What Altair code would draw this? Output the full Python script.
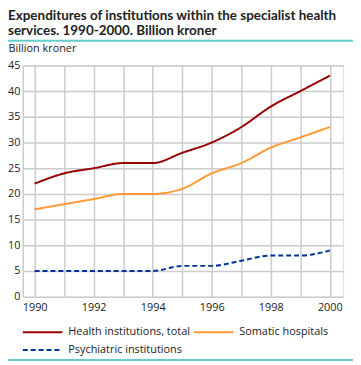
import altair as alt
import pandas as pd

years = list(range(1990, 2001))
total = [22, 24, 25, 26, 26, 28, 30, 33, 37, 40, 43]
somatic = [17, 18, 19, 20, 20, 21, 24, 26, 29, 31, 33]
psych = [5, 5, 5, 5, 5, 6, 6, 7, 8, 8, 9]
series_names = ["Health institutions, total", "Somatic hospitals", "Psychiatric institutions"]
series_colors = ["#990000", "#ff9933", "#003399"]
series_dash = [[1, 0], [1, 0], [5, 3]]
title_lines = ["Expenditures of institutions within the specialist health",
               "services. 1990-2000. Billion kroner"]
y_title = "Billion kroner"
y_ticks = [0, 5, 10, 15, 20, 25, 30, 35, 40, 45]

rows = []
for name, vals in zip(series_names, [total, somatic, psych]):
    for yr, v in zip(years, vals):
        rows.append({"year": yr, "value": v, "series": name})
df = pd.DataFrame(rows)

FONT = "Open Sans"
TFONT = "Lato"
W, H = 324, 234
PL, PT = 15, 56

color_scale = alt.Scale(domain=series_names, range=series_colors)
dash_scale = alt.Scale(domain=series_names, range=series_dash)

x = alt.X("year:Q",
          scale=alt.Scale(domain=[1989.6, 2000.45], nice=False, zero=False),
          axis=alt.Axis(values=years, labelExpr="datum.value % 2 == 0 ? datum.value : ''",
                        title=None, grid=True, gridColor="#cccccc", gridWidth=1.5,
                        domain=False, ticks=False, labelPadding=5,
                        labelFontSize=11, labelColor="#222222", labelFont=FONT))
y = alt.Y("value:Q",
          scale=alt.Scale(domain=[0, 45], nice=False),
          axis=alt.Axis(values=y_ticks, title=y_title, titleAngle=0, titleAlign="left",
                        titleBaseline="middle", titleX=-PL, titleY=-17,
                        titleFontSize=11, titleFontWeight="normal", titleColor="#222222",
                        titleFont=FONT,
                        grid=True, gridColor="#cccccc", gridWidth=1.5,
                        domain=True, domainColor="#cccccc", domainWidth=1.5,
                        ticks=False, labelPadding=3,
                        labelFontSize=11, labelColor="#222222", labelFont=FONT))

lines = alt.Chart(df).mark_line(strokeWidth=2, interpolate="monotone").encode(
    x=x, y=y,
    color=alt.Color("series:N", scale=color_scale, legend=None),
    strokeDash=alt.StrokeDash("series:N", scale=dash_scale, legend=None),
)

# custom legend: (column x offset, row y) slots for the three entries
slots = [(0, 270), (173, 270), (0, 288)]
legend_layers = []
for name, (lx, ly) in zip(series_names, slots):
    ldf = pd.DataFrame({"series": [name]})
    sym = alt.Chart(ldf).mark_rule(strokeWidth=2).encode(
        x=alt.value(lx), x2=alt.value(lx + 40), y=alt.value(ly),
        color=alt.Color("series:N", scale=color_scale, legend=None),
        strokeDash=alt.StrokeDash("series:N", scale=dash_scale, legend=None),
    )
    lab = alt.Chart(ldf).mark_text(align="left", baseline="middle", font=FONT,
                                   fontSize=11, color="#222222").encode(
        x=alt.value(lx + 46), y=alt.value(ly), text="series:N")
    legend_layers += [sym, lab]

title1 = alt.Chart().mark_text(text=title_lines[0], align="left", baseline="alphabetic",
                               font=TFONT, fontSize=13.6, fontWeight="bold", color="#222222").encode(
    x=alt.value(-PL), y=alt.value(-46))
title2 = alt.Chart().mark_text(text=title_lines[1], align="left", baseline="alphabetic",
                               font=TFONT, fontSize=13.6, fontWeight="bold", color="#222222").encode(
    x=alt.value(-PL), y=alt.value(-31))
teal_top = alt.Chart().mark_rule(color="#66cccc", strokeWidth=2).encode(
    x=alt.value(-PL), x2=alt.value(W + 10), y=alt.value(-25))
teal_bot = alt.Chart().mark_rule(color="#66cccc", strokeWidth=2).encode(
    x=alt.value(-PL), x2=alt.value(W + 10), y=alt.value(H + 64))

chart = alt.layer(lines, *legend_layers, title1, title2, teal_top, teal_bot).properties(
    width=W, height=H,
    autosize=alt.AutoSizeParams(type="none"),
    padding={"left": PL, "top": PT, "right": 10, "bottom": 68},
).configure_view(stroke=None).configure(font=FONT)

chart.save("out.html", embed_options={"renderer": "svg", "actions": False})
